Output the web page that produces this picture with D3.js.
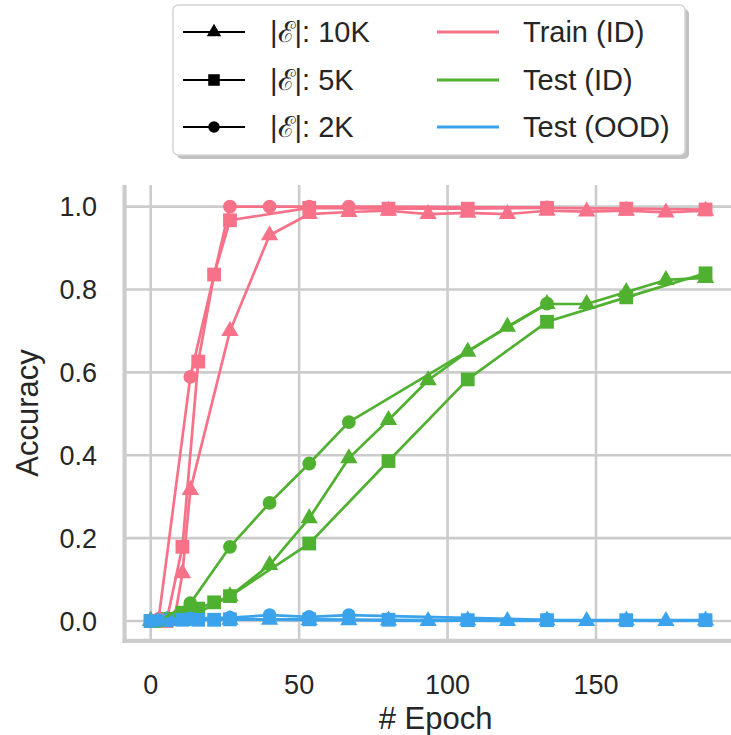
<!DOCTYPE html>
<html>
<head>
<meta charset="utf-8">
<script src="https://cdn.jsdelivr.net/npm/d3@7"></script>
<style>
  html, body { margin: 0; padding: 0; background: #ffffff; }
  svg { display: block; font-family: "Liberation Sans", Arial, sans-serif; }
</style>
</head>
<body>
<svg id="chart" width="731" height="735"></svg>
<script>
// ---------------- data ----------------
const sizeLabels = ["|ℰ|: 10K", "|ℰ|: 5K", "|ℰ|: 2K"];
const metricLabels = ["Train (ID)", "Test (ID)", "Test (OOD)"];
const metricColors = ["#f77189", "#50b131", "#3ba3ec"];
const xTicks = [0, 50, 100, 150];
const yTicks = [0.0, 0.2, 0.4, 0.6, 0.8, 1.0];

const epochs10K = [0, 2.67, 5.34, 8.01, 10.68, 13.35, 26.7, 40.05, 53.4, 66.75, 80.1, 93.45, 106.8, 120.15, 133.5, 146.85, 160.2, 173.55, 186.9];
const train10K  = [0, 0, 0, 0.005, 0.115, 0.316, 0.70, 0.931, 0.982, 0.987, 0.99, 0.982, 0.985, 0.982, 0.99, 0.988, 0.99, 0.986, 0.99];
const testID10K = [0, 0, 0, 0, 0.005, 0.01, 0.06, 0.135, 0.248, 0.393, 0.485, 0.581, 0.65, 0.71, 0.765, 0.765, 0.794, 0.823, 0.828];
const ood10K    = [0, 0, 0, 0, 0, 0.002, 0.003, 0.003, 0.002, 0.002, 0.001, 0.0, 0.001, 0.0, 0.001, 0.0, 0.001, 0.0, 0.001];

const epochs5K  = [0, 5.34, 10.68, 16.02, 21.36, 26.7, 53.4, 80.1, 106.8, 133.5, 160.2, 186.9];
const train5K   = [0, 0.0, 0.179, 0.626, 0.836, 0.967, 0.997, 0.995, 0.995, 0.997, 0.995, 0.993];
const testID5K  = [0, 0.005, 0.02, 0.03, 0.045, 0.06, 0.187, 0.386, 0.583, 0.722, 0.781, 0.839];
const ood5K     = [0, 0.002, 0.003, 0.003, 0.003, 0.004, 0.004, 0.003, 0.002, 0.002, 0.002, 0.002];

const epochs2K  = [0, 2.67, 13.35, 26.7, 40.05, 53.4, 66.75, 133.5];
const train2K   = [0, 0.005, 0.589, 1.0, 1.0, 1.0, 1.0, 0.998];
const testID2K  = [0, 0, 0.043, 0.179, 0.285, 0.38, 0.48, 0.766];
const ood2K     = [0, 0.002, 0.006, 0.008, 0.014, 0.01, 0.014, 0.003];

const seriesBySize = [
  { epochs: epochs10K, values: [train10K, testID10K, ood10K], symbol: d3.symbolTriangle, size: 130 },
  { epochs: epochs5K,  values: [train5K,  testID5K,  ood5K],  symbol: d3.symbolSquare,   size: 190 },
  { epochs: epochs2K,  values: [train2K,  testID2K,  ood2K],  symbol: d3.symbolCircle,   size: 150 }
];

// ---------------- layout ----------------
const svg = d3.select("#chart");
const W = 731, H = 735;
svg.append("rect").attr("width", W).attr("height", H).attr("fill", "#ffffff");

const x = d3.scaleLinear().domain([0, 150]).range([150.7, 596]);
const y = d3.scaleLinear().domain([0, 1]).range([621, 206.6]);
const xMin = -8.8, xMax = 200, yMin = -0.048, yMax = 1.052;

const grid = svg.append("g");
grid.selectAll("line.vg").data(xTicks).join("line")
  .attr("x1", d => x(d)).attr("x2", d => x(d))
  .attr("y1", y(yMin)).attr("y2", y(yMax))
  .attr("stroke", "#cccccc").attr("stroke-width", 2.6);
grid.selectAll("line.hg").data(yTicks).join("line")
  .attr("x1", x(xMin)).attr("x2", x(xMax))
  .attr("y1", d => y(d)).attr("y2", d => y(d))
  .attr("stroke", "#cccccc").attr("stroke-width", 2.6);
grid.append("line").attr("x1", x(xMin)).attr("x2", x(xMin))
  .attr("y1", y(yMin) + 2).attr("y2", y(yMax))
  .attr("stroke", "#cccccc").attr("stroke-width", 4.2);
grid.append("line").attr("x1", x(xMin) - 2).attr("x2", x(xMax))
  .attr("y1", y(yMin)).attr("y2", y(yMin))
  .attr("stroke", "#cccccc").attr("stroke-width", 4.2);

svg.append("g").selectAll("text").data(yTicks).join("text")
  .attr("x", 97).attr("y", d => y(d)).attr("dy", "0.36em")
  .attr("text-anchor", "end").attr("font-size", 27).attr("fill", "#262626")
  .text(d => d3.format(".1f")(d));
svg.append("g").selectAll("text").data(xTicks).join("text")
  .attr("x", d => x(d)).attr("y", 694)
  .attr("text-anchor", "middle").attr("font-size", 27).attr("fill", "#262626")
  .text(d => d);

svg.append("text").attr("x", x(100) - 12).attr("y", 729)
  .attr("text-anchor", "middle").attr("font-size", 31).attr("fill", "#262626")
  .text("# Epoch");
svg.append("text").attr("transform", "translate(38,413) rotate(-90)")
  .attr("text-anchor", "middle").attr("font-size", 31).attr("fill", "#262626")
  .text("Accuracy");

// ---------------- data marks ----------------
const plot = svg.append("g");
seriesBySize.forEach(s => {
  s.values.forEach((vals, mi) => {
    const pts = s.epochs.map((e, i) => [e, vals[i]]);
    plot.append("path")
      .attr("d", d3.line().x(d => x(d[0])).y(d => y(d[1]))(pts))
      .attr("fill", "none").attr("stroke", metricColors[mi])
      .attr("stroke-width", 2.7).attr("stroke-linejoin", "round");
    plot.append("g").selectAll("path").data(pts).join("path")
      .attr("transform", d => `translate(${x(d[0])},${y(d[1])})`)
      .attr("d", d3.symbol().type(s.symbol).size(s.size))
      .attr("fill", metricColors[mi]);
  });
});

// ---------------- legend ----------------
const lg = svg.append("g");
lg.append("rect").attr("x", 177).attr("y", 9).attr("width", 512).attr("height", 150)
  .attr("rx", 5).attr("fill", "#9a9a9a").attr("opacity", 0.6);
lg.append("rect").attr("x", 173).attr("y", 5).attr("width", 512).attr("height", 150)
  .attr("rx", 5).attr("fill", "#ffffff").attr("stroke", "#d5d5d5").attr("stroke-width", 1.5);

const rowY = [32, 80, 127];
sizeLabels.forEach((lab, i) => {
  const g = lg.append("g");
  g.append("line").attr("x1", 183).attr("x2", 245).attr("y1", rowY[i]).attr("y2", rowY[i])
    .attr("stroke", "#000000").attr("stroke-width", 2.2);
  g.append("path").attr("transform", `translate(214,${rowY[i]})`)
    .attr("d", d3.symbol().type(seriesBySize[i].symbol).size(seriesBySize[i].size * 0.7))
    .attr("fill", "#000000");
  g.append("text").attr("x", 270).attr("y", rowY[i]).attr("dy", "0.36em")
    .attr("font-size", 29).attr("fill", "#262626").text(lab);
});
metricLabels.forEach((lab, i) => {
  const g = lg.append("g");
  g.append("line").attr("x1", 437).attr("x2", 499).attr("y1", rowY[i]).attr("y2", rowY[i])
    .attr("stroke", metricColors[i]).attr("stroke-width", 3);
  g.append("text").attr("x", 523).attr("y", rowY[i]).attr("dy", "0.36em")
    .attr("font-size", 29).attr("fill", "#262626").text(lab);
});
</script>
</body>
</html>
